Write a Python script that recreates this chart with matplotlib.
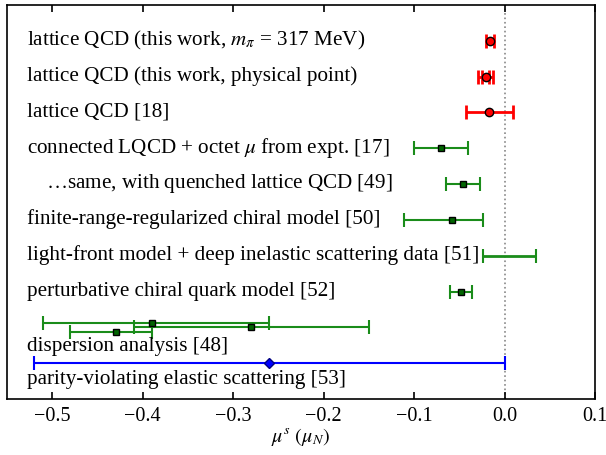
import matplotlib
matplotlib.use("Agg")
import matplotlib.pyplot as plt

plt.rcParams.update(
    {
        "font.family": "serif",
        "font.serif": ["Liberation Serif", "DejaVu Serif"],
        "mathtext.fontset": "stix",
        "font.size": 15.2,
        "xtick.direction": "in",
        "xtick.top": True,
        "axes.linewidth": 1.2,
    }
)

# ── Datos ─────────────────────────────────────────────────────────────────────
etiquetas = [
    r"lattice QCD (this work, $m_\pi$ = 317 MeV)",
    "lattice QCD (this work, physical point)",
    "lattice QCD [18]",
    r"connected LQCD + octet $\mu$ from expt. [17]",
    r"$\ldots$same, with quenched lattice QCD [49]",
    "finite-range-regularized chiral model [50]",
    "light-front model + deep inelastic scattering data [51]",
    "perturbative chiral quark model [52]",
    "dispersion analysis [48]",
    "parity-violating elastic scattering [53]",
]
etiq_fila = [0, 1, 2, 3, 4, 5, 6, 7, 8.55, 9.45]
etiq_x = [-0.528, -0.528, -0.528, -0.528, -0.507, -0.528, -0.528, -0.528, -0.528, -0.528]

# lattice QCD (rojo)
lat_fila = [0, 1, 2]
lat_val = [-0.016, -0.021, -0.017]
lat_err = [0.0047, 0.0081, 0.026]
lat_err_stat = [0.0035]  # error interno del punto fisico (fila 1)

# modelos (verde)
mod_fila = [3, 4, 5, 7]
mod_val = [-0.070, -0.046, -0.058, -0.048]
mod_err_lo = [0.030, 0.019, 0.053, 0.012]
mod_err_hi = [0.030, 0.019, 0.034, 0.012]
rango_lf = [-0.024, 0.035]  # light-front, sin valor central

# dispersion analysis
disp_fila = [7.88, 8.0, 8.12]
disp_val = [-0.39, -0.28, -0.43]
disp_err_lo = [0.12, 0.13, 0.05]
disp_err_hi = [0.13, 0.13, 0.04]

# experimento
exp_val = [-0.26]
exp_err = [0.26]
exp_fila = [9]

ROJO = "#ff0000"
VERDE = "#1a8c1a"
VERDE_OSC = "#006400"
AZUL = "#0000ff"

# ── Figura ────────────────────────────────────────────────────────────────────
fig = plt.figure(figsize=(6.06, 4.56), dpi=100)
ax = fig.add_axes([0.0116, 0.1228, 0.9702, 0.864])

ax.axvline(0.0, color="#888888", linestyle=":", linewidth=1.2, zorder=0)

ax.errorbar(
    lat_val, lat_fila, xerr=lat_err, fmt="o", color=ROJO, ecolor=ROJO,
    mfc=ROJO, mec="black", ms=6, elinewidth=2, capsize=5, capthick=2, zorder=3,
)
ax.errorbar(
    lat_val[1:2], lat_fila[1:2], xerr=lat_err_stat, fmt="none", ecolor=ROJO,
    elinewidth=2, capsize=5, capthick=2, zorder=3,
)

ax.errorbar(
    mod_val, mod_fila, xerr=[mod_err_lo, mod_err_hi], fmt="s", color=VERDE,
    ecolor=VERDE, mfc=VERDE_OSC, mec="black", ms=5, elinewidth=1.5,
    capsize=5, capthick=1.5, zorder=3,
)
lf_centro = (rango_lf[0] + rango_lf[1]) / 2
lf_medio = (rango_lf[1] - rango_lf[0]) / 2
ax.errorbar(
    [lf_centro], [6], xerr=[lf_medio], fmt="none", ecolor=VERDE,
    elinewidth=2, capsize=5, capthick=1.5, zorder=3,
)

ax.errorbar(
    disp_val, disp_fila, xerr=[disp_err_lo, disp_err_hi], fmt="s", color=VERDE,
    ecolor=VERDE, mfc=VERDE_OSC, mec="black", ms=5, elinewidth=1.5,
    capsize=5, capthick=1.5, zorder=3,
)

ax.errorbar(
    exp_val, exp_fila, xerr=exp_err, fmt="D", color=AZUL, ecolor=AZUL,
    mfc=AZUL, mec="#000080", ms=5, elinewidth=1.5, capsize=5, capthick=1.5,
    zorder=3,
)

for txt, y, x in zip(etiquetas, etiq_fila, etiq_x):
    ax.text(x, y + 0.09, txt, ha="left", va="baseline", fontsize=15.2, zorder=4)

ax.set_xlim(-0.55, 0.1)
ax.set_ylim(10, -1)
ax.set_yticks([])
ax.set_xticks([-0.5, -0.4, -0.3, -0.2, -0.1, 0.0, 0.1])
ax.set_xticklabels(["\u22120.5", "\u22120.4", "\u22120.3", "\u22120.2", "\u22120.1", "0.0", "0.1"])
ax.tick_params(axis="x", length=5, width=1.2, labelsize=14.5, pad=5)
ax.set_xlabel(r"$\mu^s\ (\mu_N)$", fontsize=14.5, labelpad=0)

fig.savefig("out.png", dpi=100)
